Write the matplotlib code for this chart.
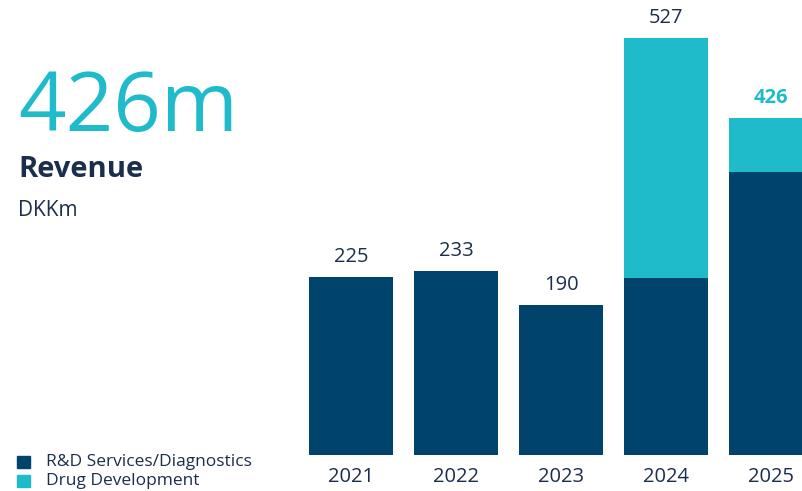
import matplotlib.pyplot as plt
from matplotlib.patches import Rectangle

years = ["2021", "2022", "2023", "2024", "2025"]
rnd = [224.5, 233, 190, 224, 358]
drug = [0.5, 0, 0, 303, 68]
totals = [225, 233, 190, 527, 426]
legend_labels = ["R&D Services/Diagnostics", "Drug Development"]

navy = "#00446B"
teal = "#20BBCB"
txt = "#1B2E4B"

plt.rcParams["font.family"] = ["Open Sans", "DejaVu Sans"]


def main():
    fig = plt.figure(figsize=(8.03, 4.91), dpi=100)
    W, H = 803, 491
    ax = fig.add_axes([309 / W, 36 / H, (W - 309) / W, 443 / H])
    x = list(range(len(years)))
    ax.bar(x, rnd, width=0.8, color=navy)
    ax.bar(x, drug, width=0.8, bottom=rnd, color=teal)
    ax.set_xlim(-0.4, 4.305)
    ax.set_ylim(0, 560)
    ax.axis("off")

    for i, t in enumerate(totals):
        last = i == len(totals) - 1
        ax.annotate(str(t), (i, t), xytext=(0, 7), textcoords="offset points",
                    ha="center", va="bottom", fontsize=14.5,
                    color=teal if last else txt,
                    fontweight="bold" if last else "normal")
        ax.annotate(years[i], (i, 0), xytext=(0, -9), textcoords="offset points",
                    ha="center", va="top", fontsize=14.5, color=txt,
                    annotation_clip=False)

    fig.text(18 / W, 1 - 131 / H, "426m", fontsize=60, color=teal,
             ha="left", va="baseline")
    fig.text(18 / W, 1 - 177 / H, "Revenue", fontsize=21, fontweight="bold",
             color=txt, ha="left", va="baseline")
    fig.text(18 / W, 1 - 216 / H, "DKKm", fontsize=15, color=txt,
             ha="left", va="baseline")

    for k, (lab, c) in enumerate(zip(legend_labels, [navy, teal])):
        y0 = 456 + k * 19
        fig.patches.append(Rectangle((17 / W, 1 - (y0 + 12) / H), 13 / W, 12 / H,
                                     transform=fig.transFigure, color=c))
        fig.text(46 / W, 1 - (y0 + 6) / H, lab, fontsize=12.5, color=txt,
                 ha="left", va="center")

    fig.savefig("out.png", dpi=100)


if __name__ == "__main__":
    main()
